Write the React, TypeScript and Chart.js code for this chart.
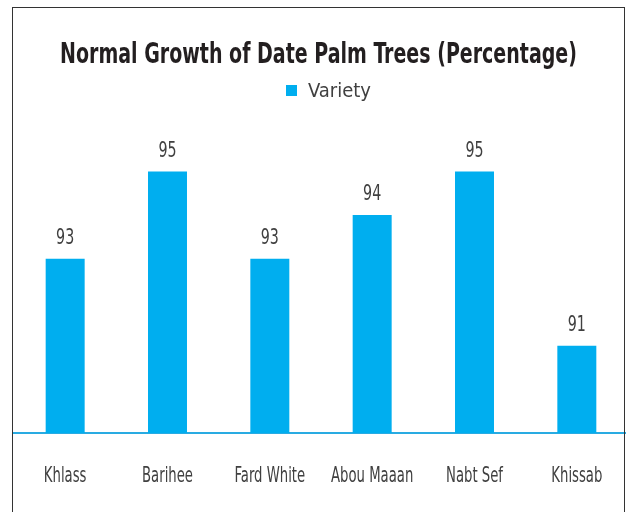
import React, { useEffect, useRef } from "react";
import { Chart, registerables } from "chart.js";

Chart.register(...registerables);

const categories = ["Khlass", "Barihee", "Fard White", "Abou Maaan", "Nabt Sef", "Khissab"];
const seriesName = "Variety";
const values = [93, 95, 93, 94, 95, 91];
const titleText = "Normal Growth of Date Palm Trees (Percentage)";

const FONT = "'Liberation Sans Narrow', 'DejaVu Sans Condensed', 'Arial Narrow', sans-serif";
const BAR = "#00AEEF";
const TEXT = "#404040";

function drawNarrow(
  ctx: CanvasRenderingContext2D,
  text: string,
  x: number,
  y: number,
  size: number,
  weight: string,
  color: string,
  sx: number,
  align: CanvasTextAlign
) {
  ctx.save();
  ctx.translate(x, y);
  ctx.scale(sx, 1);
  ctx.font = `${weight} ${size}px ${FONT}`;
  ctx.fillStyle = color;
  ctx.textAlign = align;
  ctx.textBaseline = "alphabetic";
  ctx.fillText(text, 0, 0);
  ctx.restore();
}

const decorations = {
  id: "decorations",
  afterDraw(chart: any) {
    const ctx = chart.ctx as CanvasRenderingContext2D;
    // title
    drawNarrow(ctx, titleText, 318.5, 63, 28, "bold", "#231F20", 0.755, "center");
    // legend
    ctx.save();
    ctx.fillStyle = BAR;
    ctx.fillRect(286, 85, 11, 11);
    ctx.restore();
    drawNarrow(ctx, seriesName, 308, 97, 20, "normal", TEXT, 1, "left");
    // category labels
    const xs = chart.scales.x;
    categories.forEach((c, i) => {
      drawNarrow(ctx, c, xs.getPixelForValue(i), 482, 21, "normal", TEXT, 0.7, "center");
    });
    // value labels
    const meta = chart.getDatasetMeta(0);
    meta.data.forEach((el: any, i: number) => {
      drawNarrow(ctx, String(values[i]), el.x, el.y - 15, 22, "normal", TEXT, 0.72, "center");
    });
  },
};

export default function App() {
  const ref = useRef<HTMLCanvasElement | null>(null);
  useEffect(() => {
    if (!ref.current) return;
    const chart = new Chart(ref.current, {
      type: "bar",
      data: {
        labels: categories,
        datasets: [
          {
            label: seriesName,
            data: values,
            backgroundColor: BAR,
            borderWidth: 0,
            barPercentage: 0.381,
            categoryPercentage: 1,
          },
        ],
      },
      options: {
        animation: false,
        responsive: false,
        maintainAspectRatio: false,
        layout: { padding: { left: 14, right: 12, top: 110.5, bottom: 79 } },
        plugins: {
          title: { display: false },
          legend: { display: false },
          tooltip: { enabled: false },
        },
        scales: {
          x: {
            grid: { display: false, drawTicks: false },
            border: { display: true, color: "#29ABE2", width: 2 },
            ticks: { display: false, autoSkip: false },
          },
          y: {
            display: false,
            min: 89,
            max: 96.4,
          },
        },
      },
      plugins: [decorations],
    });
    return () => chart.destroy();
  }, []);

  return (
    <div style={{ position: "absolute", left: 0, top: 0, width: 626, height: 512, overflow: "hidden", background: "#fff" }}>
      <canvas ref={ref} width={640} height={512} style={{ position: "absolute", left: 0, top: 0, width: 640, height: 512 }} />
      <div
        style={{
          position: "absolute",
          left: 12,
          top: 7,
          width: 613,
          height: 600,
          boxSizing: "border-box",
          border: "1px solid #333",
          pointerEvents: "none",
        }}
      />
    </div>
  );
}
